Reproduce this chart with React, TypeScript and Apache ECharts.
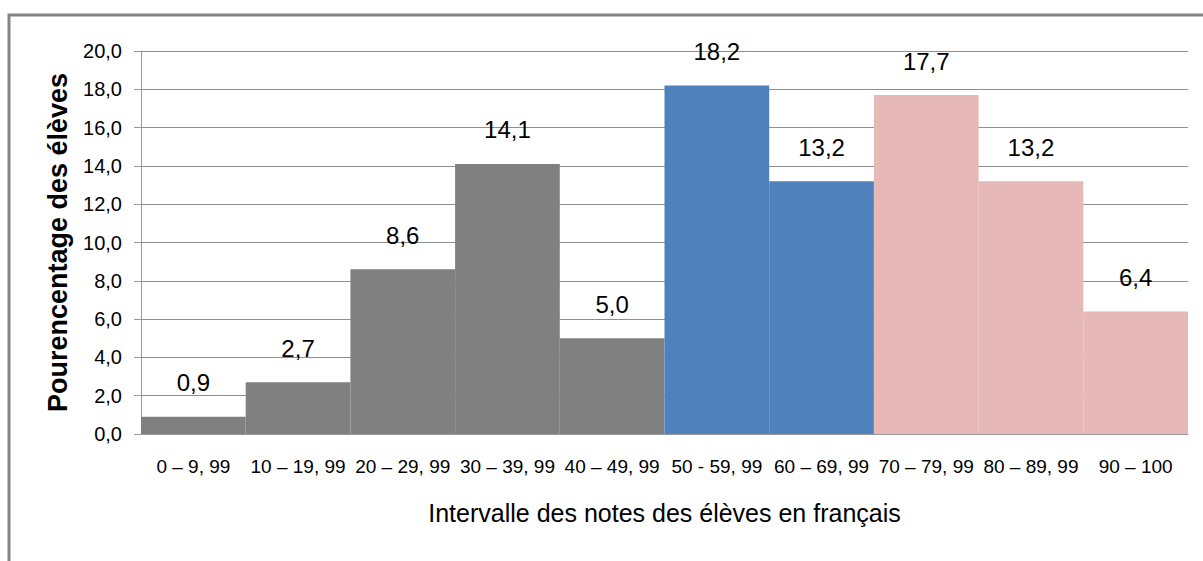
import React, { useEffect, useRef } from "react";
import * as echarts from "echarts";

const categories = [
  "0 – 9, 99",
  "10 – 19, 99",
  "20 – 29, 99",
  "30 – 39, 99",
  "40 – 49, 99",
  "50 - 59, 99",
  "60 – 69, 99",
  "70 – 79, 99",
  "80 – 89, 99",
  "90 – 100",
];
const percentages = [0.9, 2.7, 8.6, 14.1, 5.0, 18.2, 13.2, 17.7, 13.2, 6.4];
const barColors = [
  "#808080", "#808080", "#808080", "#808080", "#808080",
  "#4F81BD", "#4F81BD",
  "#E6B9B8", "#E6B9B8", "#E6B9B8",
];
const yTitle = "Pourencentage des élèves";
const xTitle = "Intervalle des notes des élèves en français";

const fmt = (v: number) => v.toFixed(1).replace(".", ",");
const font = "'Liberation Sans', Arial, sans-serif";

export default function App() {
  const ref = useRef<HTMLDivElement>(null);
  useEffect(() => {
    if (!ref.current) return;
    const chart = echarts.init(ref.current, null, { renderer: "svg" });
    chart.setOption({
      animation: false,
      backgroundColor: "#ffffff",
      graphic: [
        {
          type: "rect",
          shape: { x: 9, y: 15, width: 1300, height: 700 },
          style: { fill: "none", stroke: "#858585", lineWidth: 3 },
          silent: true,
        },
      ],
      grid: { left: 141, right: 15, top: 51, bottom: 127, containLabel: false },
      xAxis: {
        type: "category",
        data: categories,
        name: xTitle,
        nameLocation: "middle",
        nameGap: 66,
        nameTextStyle: { fontFamily: font, fontSize: 25, color: "#000" },
        axisLine: { lineStyle: { color: "#999999", width: 1 } },
        axisTick: { show: false },
        axisLabel: {
          fontFamily: font,
          fontSize: 19,
          color: "#000",
          margin: 23,
          interval: 0,
        },
      },
      yAxis: {
        type: "value",
        min: 0,
        max: 20,
        interval: 2,
        name: yTitle,
        nameLocation: "middle",
        nameGap: 70,
        nameRotate: 90,
        nameTextStyle: {
          fontFamily: font,
          fontWeight: "bold",
          fontSize: 27,
          color: "#000",
        },
        axisLine: { show: true, lineStyle: { color: "#999999", width: 1 } },
        axisTick: { show: true, length: 7, lineStyle: { color: "#999999" } },
        splitLine: { lineStyle: { color: "#8f8f8f", width: 1 } },
        axisLabel: {
          fontFamily: font,
          fontSize: 20,
          color: "#000",
          margin: 19,
          formatter: (v: number) => fmt(v),
        },
      },
      series: [
        {
          type: "bar",
          barCategoryGap: "0%",
          data: percentages.map((v, i) => ({
            value: v,
            itemStyle: { color: barColors[i] },
          })),
          label: {
            show: true,
            position: "top",
            distance: 22,
            fontFamily: font,
            fontSize: 24,
            color: "#000",
            formatter: (p: any) => fmt(p.value),
          },
        },
      ],
    });
    return () => chart.dispose();
  }, []);
  return (
    <div
      ref={ref}
      style={{ position: "absolute", left: 0, top: 0, width: 1203, height: 561 }}
    />
  );
}
